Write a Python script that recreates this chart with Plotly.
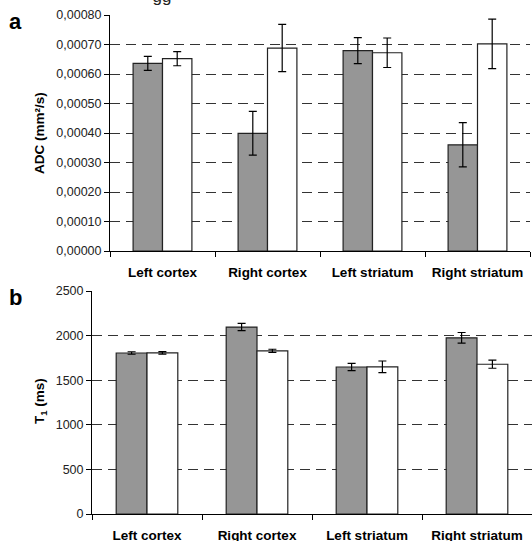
import plotly.graph_objects as go

categories = ["Left cortex", "Right cortex", "Left striatum", "Right striatum"]

adc_gray = [0.000636, 0.000399, 0.000679, 0.000360]
adc_gray_err = [0.000024, 0.000074, 0.000044, 0.000075]
adc_white = [0.000652, 0.000688, 0.000672, 0.000702]
adc_white_err = [0.000024, 0.000080, 0.000050, 0.000084]

t1_gray = [1805, 2096, 1648, 1975]
t1_gray_err = [14, 40, 40, 60]
t1_white = [1806, 1829, 1650, 1679]
t1_white_err = [14, 18, 65, 45]

cut_title = ["gg"]

W, H = 532, 541
GRAY = "#969696"
EDGE = "#222222"
FONT = "Liberation Sans, Arial, sans-serif"


def px_x(v):
    return v / W


def px_y(v):
    return 1 - v / H


fig = go.Figure()

def add_bars(gray, gerr, white, werr, xa, ya):
    fig.add_trace(go.Bar(
        x=categories, y=gray, xaxis=xa, yaxis=ya,
        marker=dict(color=GRAY, line=dict(color=EDGE, width=1.2)),
        error_y=dict(type="data", array=gerr, color="black", thickness=1.2, width=4),
        showlegend=False,
    ))
    fig.add_trace(go.Bar(
        x=categories, y=white, xaxis=xa, yaxis=ya,
        marker=dict(color="white", line=dict(color=EDGE, width=1.2)),
        error_y=dict(type="data", array=werr, color="black", thickness=1.2, width=4),
        showlegend=False,
    ))

add_bars(adc_gray, adc_gray_err, adc_white, adc_white_err, "x", "y")
add_bars(t1_gray, t1_gray_err, t1_white, t1_white_err, "x2", "y2")

# partially cut-off text at the very top edge (overlay axes spanning the figure in pixels)
fig.add_trace(go.Scatter(
    x=[162], y=[6], xaxis="x3", yaxis="y3", mode="text", text=cut_title,
    textposition="top center",
    textfont=dict(family=FONT, size=17, color="#222222"),
    cliponaxis=False, showlegend=False, hoverinfo="skip",
))

ticktext = ["<b>%s</b>" % c for c in categories]

xcommon = dict(
    type="category", tickmode="array", tickvals=categories, ticktext=ticktext,
    tickson="boundaries", ticks="outside", ticklen=5, tickcolor="black",
    showline=True, linecolor="black", linewidth=1, showgrid=False,
    tickfont=dict(family=FONT, size=13.5, color="black"), ticklabelstandoff=9,
)
ycommon = dict(
    ticks="outside", ticklen=5, tickcolor="black", showline=True,
    linecolor="black", linewidth=1, zeroline=False, showgrid=True,
    gridcolor="#333333", griddash="10px,6px", gridwidth=1,
    tickfont=dict(family=FONT, size=12.5, color="#222222"),
)

common_ann = dict(xref="paper", yref="paper", showarrow=False,
                  xanchor="center", yanchor="middle")

fig.update_layout(
    width=W, height=H,
    margin=dict(l=0, r=0, t=0, b=0, autoexpand=False),
    plot_bgcolor="rgba(0,0,0,0)", paper_bgcolor="white",
    barmode="group", bargap=0.44, bargroupgap=0,
    separators=",.",
    xaxis=dict(domain=[px_x(110), px_x(530)], anchor="y", **xcommon),
    yaxis=dict(domain=[px_y(251), px_y(15)], anchor="x", range=[0, 0.0008],
               dtick=0.0001, tickformat=".5f", **ycommon),
    xaxis2=dict(domain=[px_x(92), px_x(532)], anchor="y2", **xcommon),
    yaxis2=dict(domain=[px_y(514), px_y(291)], anchor="x2", range=[0, 2500],
                dtick=500, **ycommon),
    xaxis3=dict(domain=[0, 1], range=[0, W], visible=False, anchor="y3", fixedrange=True),
    yaxis3=dict(domain=[0, 1], range=[H, 0], visible=False, anchor="x3", fixedrange=True),
    annotations=[
        dict(text="<b>a</b>", x=px_x(15), y=px_y(22),
             font=dict(family=FONT, size=22, color="black"), **common_ann),
        dict(text="<b>b</b>", x=px_x(15), y=px_y(297),
             font=dict(family=FONT, size=22, color="black"), **common_ann),
        dict(text="<b>ADC (mm²/s)</b>", x=px_x(39), y=px_y(133), textangle=-90,
             font=dict(family=FONT, size=13.5, color="black"), **common_ann),
        dict(text="<b>T<sub>1</sub> (ms)</b>", x=px_x(40), y=px_y(401), textangle=-90,
             font=dict(family=FONT, size=13.5, color="black"), **common_ann),
    ],
)

fig.write_html("out.html", config={"displayModeBar": False},
               post_script="document.body.style.margin='0px';")
